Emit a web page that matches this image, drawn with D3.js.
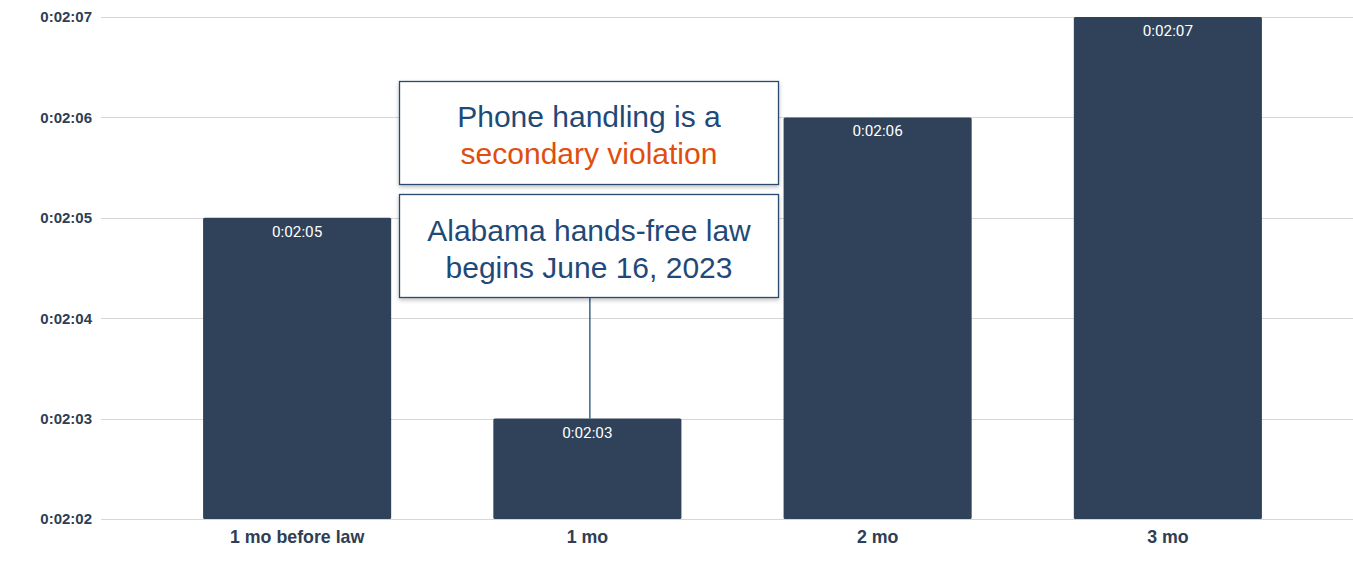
<!DOCTYPE html>
<html>
<head>
<meta charset="utf-8">
<script src="https://cdn.jsdelivr.net/npm/d3@7"></script>
<style>
  html, body { margin: 0; padding: 0; background: #fff; }
  svg { display: block; }
</style>
</head>
<body>
<svg id="chart" width="1353" height="570"></svg>
<script>
// Average call duration (seconds) around the hands-free law start
const categories = ["1 mo before law", "1 mo", "2 mo", "3 mo"];
const durations = [125, 123, 126, 127];
const yTicks = [122, 123, 124, 125, 126, 127];
const noteTop = ["Phone handling is a", "secondary violation"];
const noteBottom = ["Alabama hands-free law", "begins June 16, 2023"];

const fmt = s => {
  const h = Math.floor(s / 3600), m = Math.floor((s % 3600) / 60), sec = s % 60;
  return `${h}:${String(m).padStart(2, "0")}:${String(sec).padStart(2, "0")}`;
};

const svg = d3.select("#chart");
const W = 1353;

const x = d3.scaleBand().domain(categories).range([152, 1313])
  .paddingInner(0.352).paddingOuter(0.176);
const y = d3.scaleLinear().domain([122, 127]).range([519, 17]);

// gridlines
svg.append("g").selectAll("line").data(yTicks).join("line")
  .attr("x1", 101).attr("x2", W)
  .attr("y1", d => Math.round(y(d)) + 0.5).attr("y2", d => Math.round(y(d)) + 0.5)
  .attr("stroke", "#d6d6d6").attr("stroke-width", 1.2);

// y axis labels
const yAxis = svg.append("g").attr("transform", "translate(92,0)")
  .call(d3.axisLeft(y).tickValues(yTicks).tickFormat(fmt).tickSize(0).tickPadding(0));
yAxis.select(".domain").remove();
yAxis.selectAll("text")
  .attr("font-family", "'Liberation Sans', Arial, sans-serif")
  .attr("font-size", 15).attr("font-weight", "bold").attr("fill", "#2f3e54");

// bars
svg.append("g").selectAll("rect").data(durations).join("rect")
  .attr("x", (d, i) => x(categories[i]))
  .attr("y", d => y(d))
  .attr("width", x.bandwidth())
  .attr("height", d => y(122) - y(d))
  .attr("rx", 1.5)
  .attr("fill", "#2f4259");

// value labels
svg.append("g").selectAll("text").data(durations).join("text")
  .attr("x", (d, i) => x(categories[i]) + x.bandwidth() / 2)
  .attr("y", d => y(d) + 19)
  .attr("text-anchor", "middle")
  .attr("font-family", "Roboto, sans-serif")
  .attr("font-size", 15.3).attr("fill", "#ffffff")
  .text(fmt);

// x axis labels
const xAxis = svg.append("g").attr("transform", "translate(0,543)")
  .call(d3.axisBottom(x).tickSize(0).tickPadding(0));
xAxis.select(".domain").remove();
xAxis.selectAll("text")
  .attr("dy", 0)
  .attr("font-family", "'Liberation Sans', Arial, sans-serif")
  .attr("font-size", 17.8).attr("font-weight", "bold").attr("fill", "#2f3e54");

// annotation
const cx = x(categories[1]) + x.bandwidth() / 2 + 2;
const defs = svg.append("defs");
const f = defs.append("filter").attr("id", "shadow").attr("x", "-5%").attr("y", "-10%")
  .attr("width", "110%").attr("height", "125%");
f.append("feDropShadow").attr("dx", 0).attr("dy", 2).attr("stdDeviation", 2)
  .attr("flood-color", "#000").attr("flood-opacity", 0.25);

svg.append("line")
  .attr("x1", cx + 0.5).attr("x2", cx + 0.5)
  .attr("y1", 297).attr("y2", y(durations[1]))
  .attr("stroke", "#1f4e79").attr("stroke-width", 1.3);

const boxes = [
  { top: 81, lines: noteTop, colors: ["#1f4a78", "#e04e0e"], base: [127, 164] },
  { top: 194, lines: noteBottom, colors: ["#1f4a78", "#1f4a78"], base: [241, 278] }
];
boxes.forEach(b => {
  svg.append("rect")
    .attr("x", 399.5).attr("y", b.top + 0.5)
    .attr("width", 379).attr("height", 103)
    .attr("fill", "#fff").attr("stroke", "#2b4a6e").attr("stroke-width", 1.3)
    .attr("filter", "url(#shadow)");
  b.lines.forEach((t, i) => {
    svg.append("text")
      .attr("x", 589).attr("y", b.base[i])
      .attr("text-anchor", "middle")
      .attr("font-family", "'Liberation Sans', Arial, sans-serif")
      .attr("font-size", 30).attr("fill", b.colors[i])
      .text(t);
  });
});
</script>
</body>
</html>
